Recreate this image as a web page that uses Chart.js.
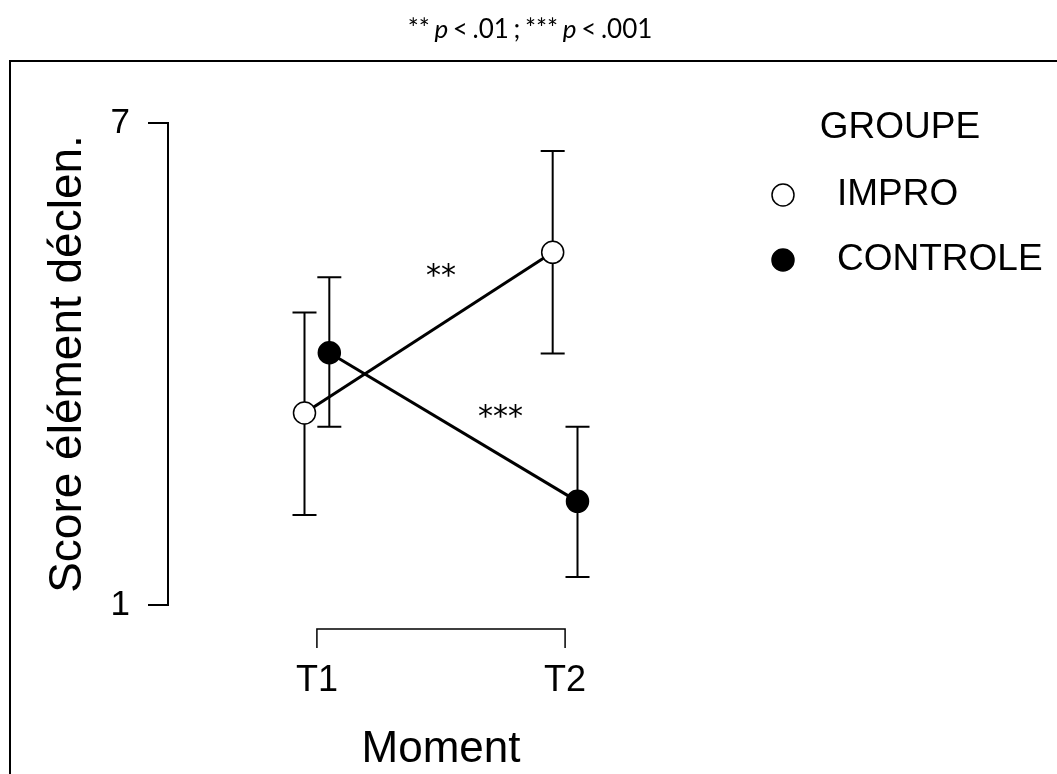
<!DOCTYPE html>
<html>
<head>
<meta charset="utf-8">
<script src="https://cdn.jsdelivr.net/npm/chart.js@4/dist/chart.umd.min.js"></script>
<style>
  body { margin: 0; background: #fff; }
  #wrap { position: relative; width: 1057px; height: 774px; overflow: hidden; }
  #myChart { position: absolute; left: 0; top: 0; }
  #title { position: absolute; left: 0; width: 1060px; top: 12px; text-align: center;
           font: 26px Lato, "Open Sans", sans-serif; word-spacing: -2px; color: #000; white-space: pre; }
</style>
</head>
<body>
<div id="wrap">
  <canvas id="myChart" width="1057" height="774"></canvas>
  <div id="title">** <i>p</i> &lt; .01 ; *** <i>p</i> &lt; .001</div>
</div>
<script>
// values (means with error bars)
const moments = ['T1', 'T2'];
const groups = ['IMPRO', 'CONTROLE'];
const improMean = [3.39, 5.39];
const improLow = [2.12, 4.13];
const improHigh = [4.64, 6.65];
const controleMean = [4.14, 2.29];
const controleLow = [3.22, 1.35];
const controleHigh = [5.08, 3.22];
const yTicks = [1, 7];
// significance marks placed between the moments
const sigLabels = ['**', '***'];
const sigX = [1.50, 1.74];
const sigY = [5.15, 3.40];

const dodge = 0.05;
const FONT = 'Liberation Sans, Arial, sans-serif';
Chart.defaults.font.family = FONT;
Chart.defaults.color = '#000';

const toPoints = (means, shift) => means.map((v, i) => ({ x: i + 1 + shift, y: v }));

// outer frame (left + top edges only visible)
const framePlugin = {
  id: 'frame',
  beforeDraw(chart) {
    const ctx = chart.ctx;
    ctx.save();
    ctx.fillStyle = '#fff';
    ctx.fillRect(0, 0, chart.width, chart.height);
    ctx.strokeStyle = '#000';
    ctx.lineWidth = 2;
    ctx.beginPath();
    ctx.moveTo(10, chart.height + 5);
    ctx.lineTo(10, 61);
    ctx.lineTo(chart.width + 5, 61);
    ctx.stroke();
    ctx.restore();
  }
};

const errorBarPlugin = {
  id: 'errorBars',
  beforeDatasetsDraw(chart) {
    const ctx = chart.ctx;
    const y = chart.scales.y;
    ctx.save();
    ctx.strokeStyle = '#000';
    ctx.lineWidth = 2;
    chart.data.datasets.forEach((ds, i) => {
      const meta = chart.getDatasetMeta(i);
      meta.data.forEach((pt, j) => {
        const top = y.getPixelForValue(ds.errHigh[j]);
        const bot = y.getPixelForValue(ds.errLow[j]);
        ctx.beginPath();
        ctx.moveTo(pt.x, top); ctx.lineTo(pt.x, bot);
        ctx.moveTo(pt.x - 12, top); ctx.lineTo(pt.x + 12, top);
        ctx.moveTo(pt.x - 12, bot); ctx.lineTo(pt.x + 12, bot);
        ctx.stroke();
      });
    });
    ctx.restore();
  }
};

const extrasPlugin = {
  id: 'extras',
  afterDraw(chart) {
    const ctx = chart.ctx;
    const xs = chart.scales.x, ys = chart.scales.y;
    ctx.save();
    // x axis bracket
    const x1 = xs.getPixelForValue(1), x2 = xs.getPixelForValue(moments.length);
    const by = chart.chartArea.bottom + 24;
    ctx.strokeStyle = '#000';
    ctx.lineWidth = 1.5;
    ctx.beginPath();
    ctx.moveTo(x1, by + 19); ctx.lineTo(x1, by); ctx.lineTo(x2, by); ctx.lineTo(x2, by + 19);
    ctx.stroke();

    // significance stars
    ctx.fillStyle = '#000';
    ctx.font = '30px "DejaVu Sans"';
    ctx.textAlign = 'center';
    ctx.textBaseline = 'middle';
    sigLabels.forEach((s, i) => {
      ctx.fillText(s, xs.getPixelForValue(sigX[i]), ys.getPixelForValue(sigY[i]) + 6);
    });

    // legend
    ctx.font = '37px ' + FONT;
    ctx.textAlign = 'center';
    ctx.fillText('GROUPE', 900, 128);
    ctx.textAlign = 'left';
    chart.data.datasets.forEach((ds, i) => {
      const cy = 195 + i * 65;
      ctx.beginPath();
      ctx.arc(783, cy, 11, 0, Math.PI * 2);
      ctx.fillStyle = ds.pointBackgroundColor;
      ctx.fill();
      ctx.lineWidth = 1.5;
      ctx.strokeStyle = '#000';
      ctx.stroke();
      ctx.fillStyle = '#000';
      ctx.fillText(ds.label, 837, cy);
    });
    ctx.restore();
  }
};

const ctx = document.getElementById('myChart').getContext('2d');
const chart = new Chart(ctx, {
  type: 'line',
  data: {
    datasets: [
      {
        label: groups[0],
        data: toPoints(improMean, -dodge),
        errLow: improLow,
        errHigh: improHigh,
        borderColor: '#000',
        borderWidth: 3,
        pointRadius: 11,
        pointBackgroundColor: '#fff',
        pointBorderColor: '#000',
        pointBorderWidth: 1.5
      },
      {
        label: groups[1],
        data: toPoints(controleMean, dodge),
        errLow: controleLow,
        errHigh: controleHigh,
        borderColor: '#000',
        borderWidth: 3,
        pointRadius: 11,
        pointBackgroundColor: '#000',
        pointBorderColor: '#000',
        pointBorderWidth: 1.5
      }
    ]
  },
  options: {
    responsive: false,
    animation: false,
    events: [],
    layout: { padding: { left: 10, top: 123, right: 343, bottom: 0 } },
    plugins: { legend: { display: false }, title: { display: false }, tooltip: { enabled: false } },
    scales: {
      x: {
        type: 'linear',
        min: 0.4,
        max: 2.6,
        afterBuildTicks: s => { s.ticks = moments.map((m, i) => ({ value: i + 1 })); },
        afterFit: s => { s.height = 169; },
        grid: { display: false, drawTicks: false },
        border: { display: false },
        ticks: { padding: 54, font: { size: 36 }, callback: v => moments[v - 1] },
        title: { display: true, text: 'Moment', font: { size: 44, lineHeight: 1.1 }, padding: { top: 0, bottom: 0 } }
      },
      y: {
        min: 1,
        max: 7,
        afterBuildTicks: s => { s.ticks = yTicks.map(v => ({ value: v })); },
        afterFit: s => { s.width = 158; },
        grid: { drawOnChartArea: false, drawTicks: true, tickLength: 20, color: '#000', lineWidth: 2 },
        border: { display: true, color: '#000', width: 2 },
        ticks: { padding: 18, font: { size: 35 } },
        title: { display: true, text: 'Score élément déclen.', font: { size: 46 }, padding: { top: 31, bottom: 0 } }
      }
    }
  },
  plugins: [framePlugin, errorBarPlugin, extrasPlugin]
});
</script>
</body>
</html>
